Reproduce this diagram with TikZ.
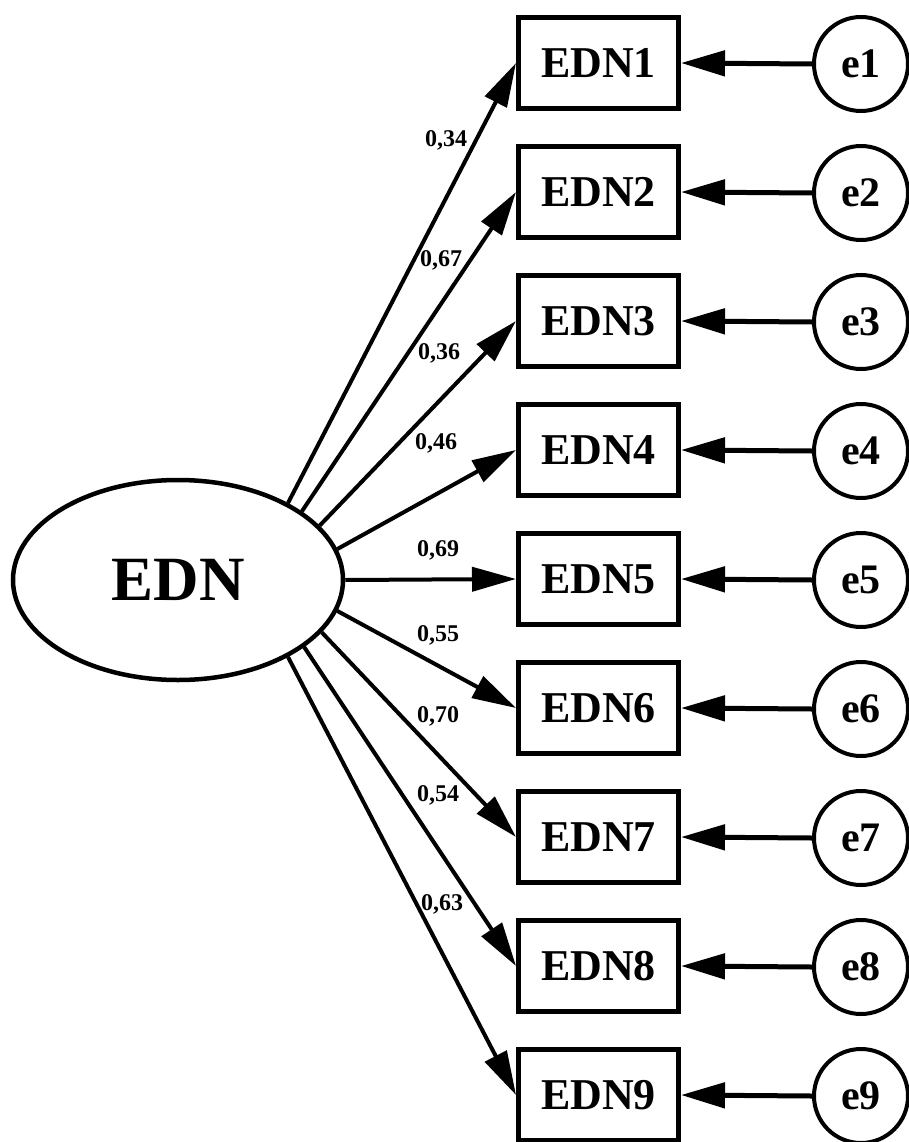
\documentclass[tikz,border=0pt]{standalone}
\usepackage{fontspec}
\setmainfont{Liberation Serif}
\usetikzlibrary{arrows.meta,shapes.geometric}
\begin{document}
\begin{tikzpicture}[x=1pt,y=-1pt,
  obsbox/.style={draw,line width=5pt,rectangle,minimum width=160pt,minimum height=91pt,inner sep=0pt,font=\fontsize{44}{44}\selectfont\bfseries},
  errc/.style={draw,line width=4pt,circle,minimum size=94pt,inner sep=0pt,font=\fontsize{42}{42}\selectfont\bfseries},
  latent/.style={draw,line width=4.5pt,ellipse,minimum width=330pt,minimum height=200pt,inner sep=0pt,font=\fontsize{63}{63}\selectfont\bfseries},
  load/.style={line width=4pt,-{Triangle[length=44pt,width=24pt]}},
  errarr/.style={line width=5pt,-{Triangle[length=44pt,width=25pt]}},
  wlab/.style={font=\fontsize{24}{24}\selectfont\bfseries,inner sep=0pt}]
\useasboundingbox (0,0) rectangle (908,1142);
\node[latent] (edn) at (178,580) {EDN};
\foreach \i in {1,...,9}{
  \node[obsbox] (b\i) at (598.5,{63+129*(\i-1)}) {EDN\i};
  \node[errc] (e\i) at (861,{64+129*(\i-1)}) {e\i};
  \draw[errarr] (e\i.west) -- (b\i.west -| b\i.east);
}
\draw[load] (edn.35.8) -- (b1.west);
\draw[load] (edn.29.4) -- (b2.west);
\draw[load] (edn.21.5) -- (b3.west);
\draw[load] (edn.11.7) -- (b4.west);
\draw[load] (edn.0) -- (b5.west);
\draw[load] (edn.-11.7) -- (b6.west);
\draw[load] (edn.-20.5) -- (b7.west);
\draw[load] (edn.-28.7) -- (b8.west);
\draw[load] (edn.-35.8) -- (b9.west);
\node[wlab] (l1) at (446,140) {0,34};
\node[wlab] (l2) at (441,260) {0,67};
\node[wlab] (l3) at (439,353) {0,36};
\node[wlab] (l4) at (436,443) {0,46};
\node[wlab] (l5) at (438,550) {0,69};
\node[wlab] (l6) at (438,635) {0,55};
\node[wlab] (l7) at (438,716) {0,70};
\node[wlab] (l8) at (438,795) {0,54};
\node[wlab] (l9) at (442,904) {0,63};
\end{tikzpicture}
\end{document}
